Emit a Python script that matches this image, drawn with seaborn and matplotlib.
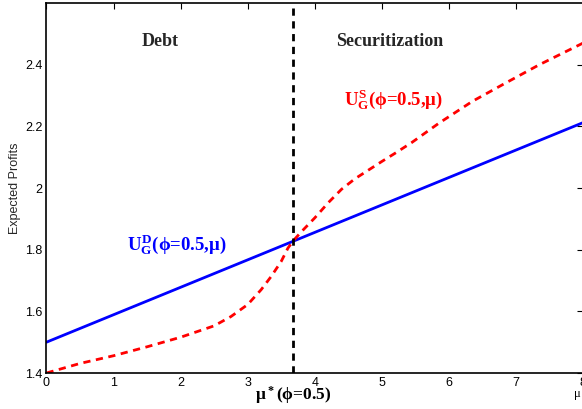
import matplotlib
matplotlib.use("Agg")
import matplotlib.pyplot as plt
import seaborn as sns
import pandas as pd

# Expected profits under debt (linear) and securitization (dashed curve)
mu_debt = [0.0, 8.0]
profit_debt = [1.50, 2.212]

mu_sec = [0.0, 0.5, 1.0, 1.5, 2.0, 2.5, 2.75, 3.0, 3.2, 3.35, 3.5, 3.6, 3.68,
          3.8, 4.0, 4.2, 4.4, 4.6, 4.8, 5.0, 5.2, 5.45, 5.85, 6.35, 6.85,
          7.35, 8.0]
profit_sec = [1.40, 1.431, 1.456, 1.485, 1.516, 1.553, 1.583, 1.622, 1.67,
              1.713, 1.762, 1.805, 1.829, 1.858, 1.903, 1.952, 1.996, 2.030,
              2.058, 2.086, 2.113, 2.148, 2.21, 2.281, 2.341, 2.40, 2.47]

mu_star = 3.68
x_ticks = [0, 1, 2, 3, 4, 5, 6, 7, 8]
y_ticks = [1.4, 1.6, 1.8, 2.0, 2.2, 2.4]
y_tick_labels = ["1.4", "1.6", "1.8", "2", "2.2", "2.4"]

sns.set_style("white")
plt.rcParams["font.family"] = ["Liberation Sans", "DejaVu Sans"]
plt.rcParams["mathtext.fontset"] = "custom"
plt.rcParams["mathtext.rm"] = "Liberation Serif:bold"
plt.rcParams["mathtext.it"] = "Liberation Serif:bold"
plt.rcParams["mathtext.bf"] = "Liberation Serif:bold"

fig = plt.figure(figsize=(5.82, 4.09), dpi=100)
ax = fig.add_axes([46.5 / 582, 36 / 409, 536.5 / 582, 370 / 409])

df_debt = pd.DataFrame({"mu": mu_debt, "profit": profit_debt})
df_sec = pd.DataFrame({"mu": mu_sec, "profit": profit_sec})

sns.lineplot(data=df_debt, x="mu", y="profit", ax=ax, color="#0000ff", lw=2.0)
sns.lineplot(data=df_sec, x="mu", y="profit", ax=ax, color="#ff0000", lw=2.0,
             linestyle=(0, (2.6, 2.0)))
ax.axvline(mu_star, color="black", lw=2.0, linestyle=(0, (2.6, 2.0)))

ax.set_xlim(0, 8)
ax.set_ylim(1.4, 2.6)
ax.set_xticks(x_ticks)
ax.set_yticks(y_ticks)
ax.set_yticklabels(y_tick_labels)
ax.tick_params(direction="in", length=4, width=0.8, labelsize=9,
               top=True, right=True, colors="black", pad=3)
for s in ax.spines.values():
    s.set_color("black")
    s.set_linewidth(1.2)

ax.set_xlabel("")
ax.set_ylabel("Expected Profits", fontsize=9)
ax.yaxis.set_label_coords(-0.048, 0.5)

serif = ["Liberation Serif", "DejaVu Serif"]
ax.text(1.70, 2.475, "Debt", fontsize=13, fontweight="bold", family=serif,
        ha="center", va="center")
ax.text(5.12, 2.475, "Securitization", fontsize=13, fontweight="bold", family=serif,
        ha="center", va="center")

ax.text(1.20, 1.815, r"$U_G^D$(ϕ=0.5,μ)", color="#0000ff", fontsize=13.5,
        fontweight="bold", family=serif, ha="left", va="center")
ax.text(4.44, 2.286, r"$U_G^S$(ϕ=0.5,μ)", color="#ff0000", fontsize=13.5,
        fontweight="bold", family=serif, ha="left", va="center")

ax.text(mu_star, 1.328, r"$\mu^*$(ϕ=0.5)", color="black", fontsize=12.5,
        fontweight="bold", family=serif, ha="center", va="center", clip_on=False)
ax.text(7.87, 1.331, "μ", color="black", fontsize=9, family=serif, ha="left",
        va="center", clip_on=False)

fig.savefig("out.png", dpi=100)
